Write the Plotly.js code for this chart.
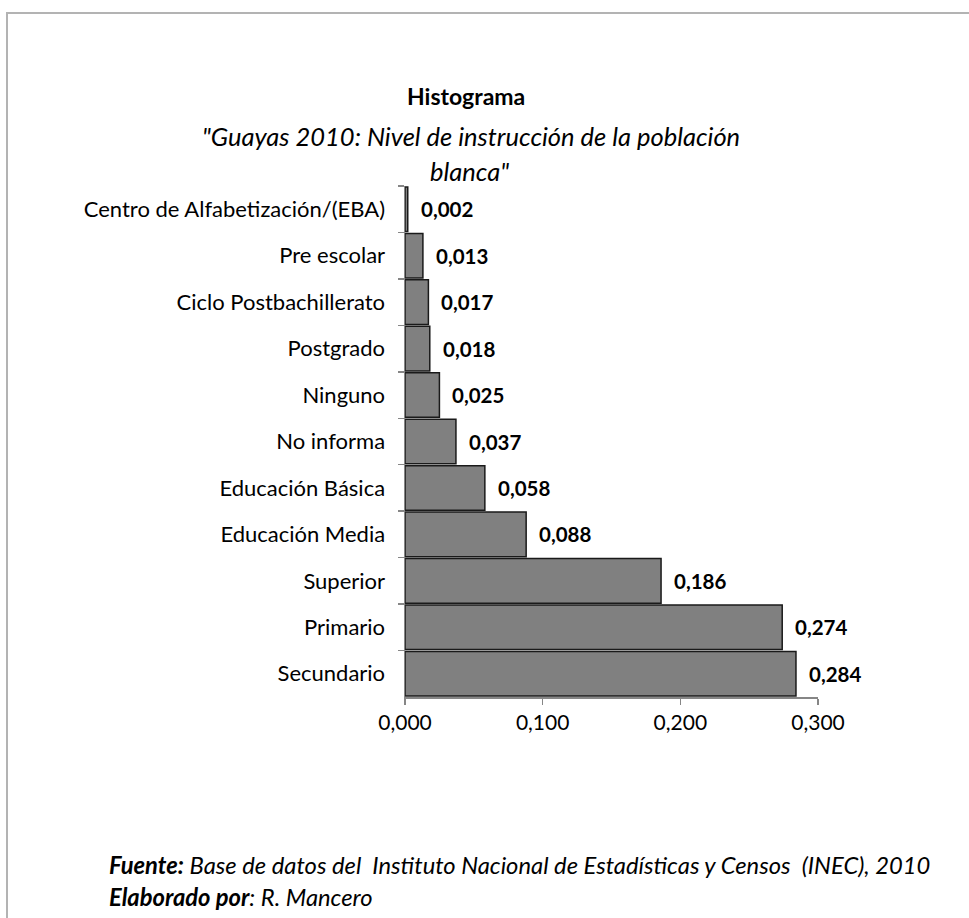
<!DOCTYPE html>
<html>
<head>
<meta charset="utf-8">
<script src="https://cdn.plot.ly/plotly-3.0.1.min.js"></script>
<style>
  html, body { margin: 0; padding: 0; background: #ffffff; }
  #frame { position: absolute; left: 6px; top: 12px; width: 970px; height: 920px;
           border-top: 2px solid #b3b3b3; border-left: 2px solid #b3b3b3; pointer-events: none; z-index: 2; }
  #chart { position: absolute; left: 0; top: 0; width: 969px; height: 918px; }
</style>
</head>
<body>
<div id="chart"></div>
<div id="frame"></div>
<script>
// Data (top-to-bottom order as shown)
const categories = [
  "Centro de Alfabetización/(EBA)",
  "Pre escolar",
  "Ciclo Postbachillerato",
  "Postgrado",
  "Ninguno",
  "No informa",
  "Educación Básica",
  "Educación Media",
  "Superior",
  "Primario",
  "Secundario"
];
const values = [0.002, 0.013, 0.017, 0.018, 0.025, 0.037, 0.058, 0.088, 0.186, 0.274, 0.284];
const xTickValues = [0, 0.1, 0.2, 0.3];
const titleText = "Histograma";
const subtitleLine1 = "\"Guayas 2010: Nivel de instrucción de la población";
const subtitleLine2 = "blanca\"";
const footerLine1 = "<b>Fuente:</b> Base de datos del  Instituto Nacional de Estadísticas y Censos  (INEC), 2010";
const footerLine2 = "<b>Elaborado por</b>: R. Mancero";

const FONT = "Lato, 'Open Sans', sans-serif";

function fmt(v) { return v.toFixed(3).replace('.', ','); }

const trace = {
  type: 'bar',
  orientation: 'h',
  y: categories,
  x: values,
  marker: { color: '#808080', line: { color: '#1a1a1a', width: 1.5 } },
  hoverinfo: 'skip'
};

const annotations = categories.map((c, i) => ({
  x: values[i], y: c, xref: 'x', yref: 'y',
  text: '<b>' + fmt(values[i]) + '</b>',
  showarrow: false, xanchor: 'left', yanchor: 'middle', xshift: 11,
  font: { family: FONT, size: 20.5, color: '#000000' }
}));

annotations.push(
  { x: 0.1477, y: 1.176, xref: 'paper', yref: 'paper', text: '<b>' + titleText + '</b>', showarrow: false,
    xanchor: 'center', yanchor: 'middle', font: { family: FONT, size: 23, color: '#000' } },
  { x: 0.159, y: 1.098, xref: 'paper', yref: 'paper', text: '<i>' + subtitleLine1 + '</i>', showarrow: false,
    xanchor: 'center', yanchor: 'middle', font: { family: FONT, size: 25.5, color: '#000' } },
  { x: 0.157, y: 1.029, xref: 'paper', yref: 'paper', text: '<i>' + subtitleLine2 + '</i>', showarrow: false,
    xanchor: 'center', yanchor: 'middle', font: { family: FONT, size: 25.5, color: '#000' } },
  { x: -0.7215, y: -0.3288, xref: 'paper', yref: 'paper', text: '<i>' + footerLine1 + '</i>', showarrow: false,
    xanchor: 'left', yanchor: 'middle', font: { family: FONT, size: 23.75, color: '#000' } },
  { x: -0.7215, y: -0.3914, xref: 'paper', yref: 'paper', text: '<i>' + footerLine2 + '</i>', showarrow: false,
    xanchor: 'left', yanchor: 'middle', font: { family: FONT, size: 23.75, color: '#000' } }
);

const layout = {
  width: 969, height: 918,
  margin: { l: 405, r: 151, t: 186, b: 221, pad: 0 },
  paper_bgcolor: '#ffffff', plot_bgcolor: '#ffffff',
  separators: ',.',
  showlegend: false,
  bargap: 0.04,
  font: { family: FONT, color: '#000' },
  xaxis: {
    range: [0, 0.3], tickvals: xTickValues, tickformat: '.3f',
    showgrid: false, zeroline: false,
    showline: true, linecolor: '#868686', linewidth: 1.5,
    ticks: 'outside', ticklen: 6, tickcolor: '#868686', tickwidth: 1.5,
    tickfont: { family: FONT, size: 21, color: '#000' },
    fixedrange: true
  },
  yaxis: {
    type: 'category', autorange: 'reversed',
    showgrid: false, zeroline: false,
    showline: true, linecolor: '#868686', linewidth: 1.5,
    ticks: 'outside', ticklen: 6, tickcolor: '#868686', tickwidth: 1.5,
    tickson: 'boundaries',
    ticklabelstandoff: 14,
    tickfont: { family: FONT, size: 22, color: '#000' },
    fixedrange: true
  },
  annotations: annotations
};

Plotly.newPlot('chart', [trace], layout, { displayModeBar: false, staticPlot: true });
</script>
</body>
</html>
